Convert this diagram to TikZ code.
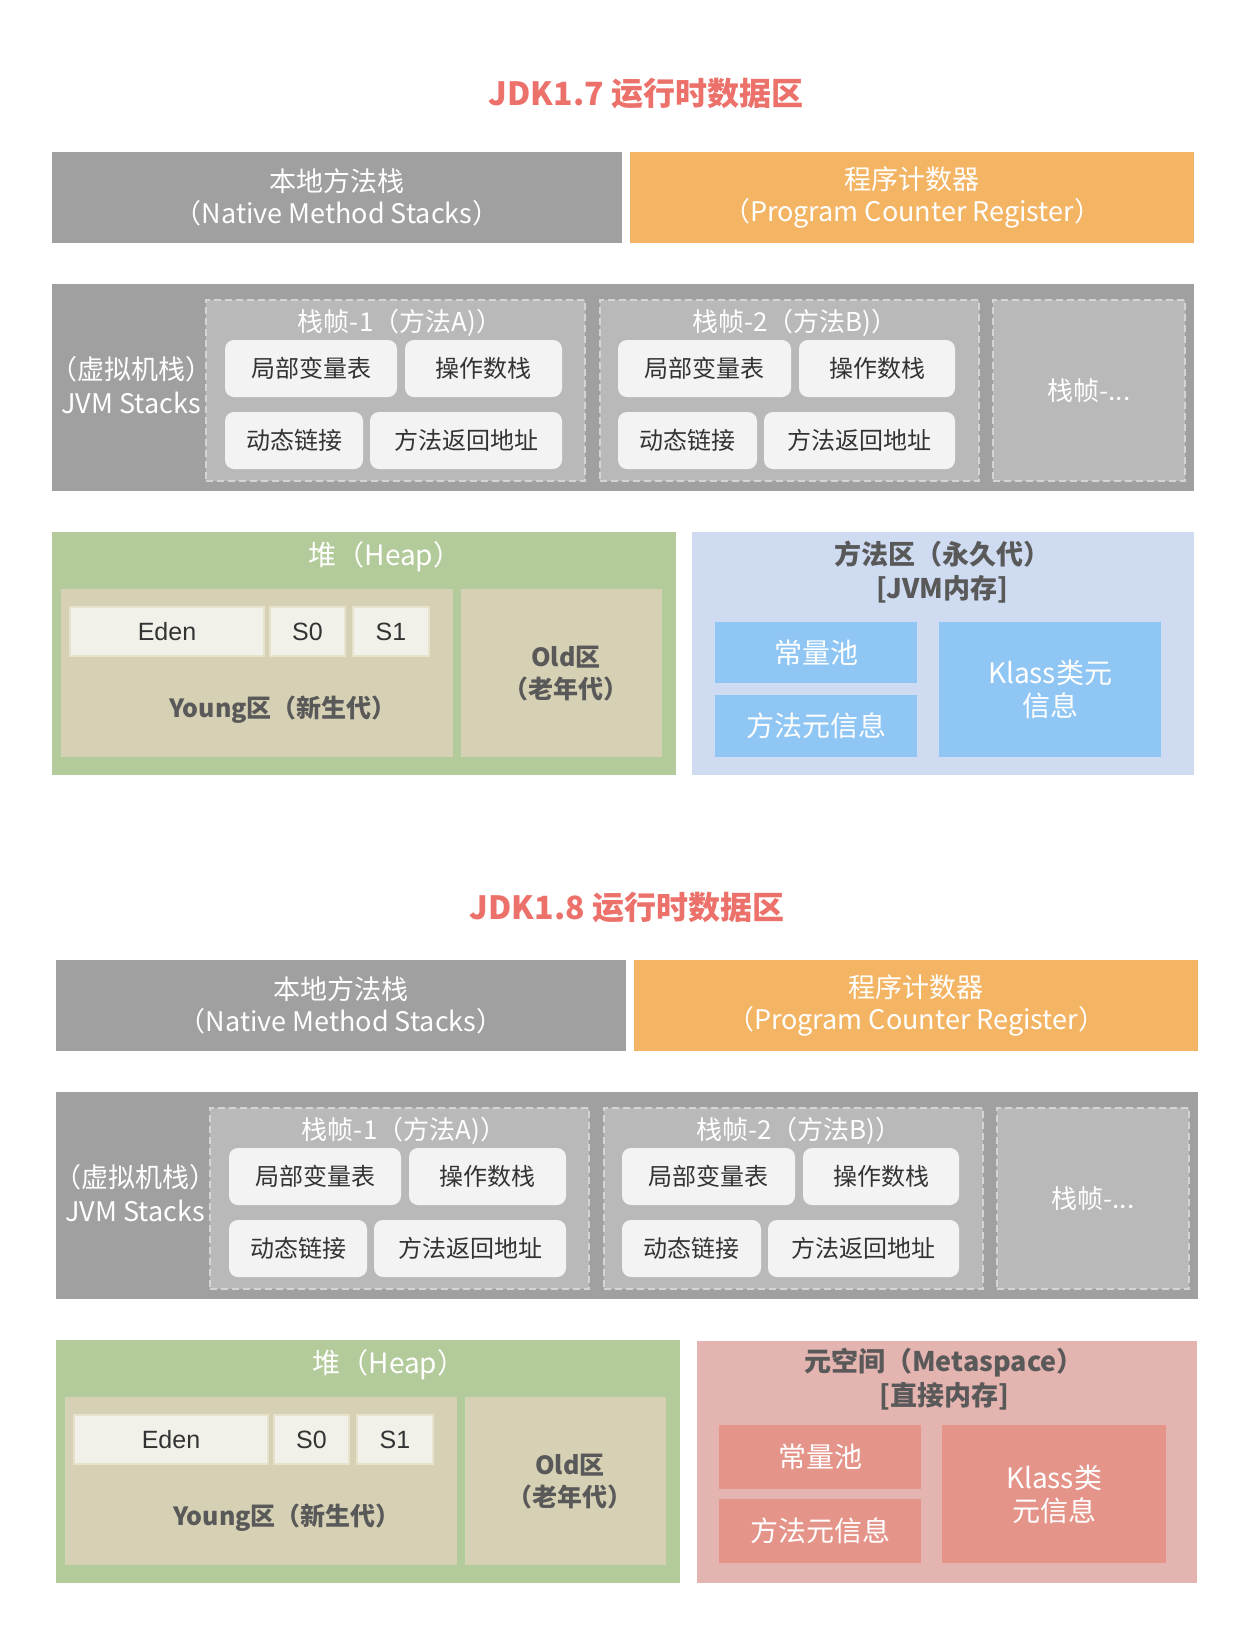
\documentclass[tikz,border=0pt]{standalone}
\usepackage{fontspec}
\setmainfont{Noto Sans CJK SC}
\newfontfamily\latinsans{Liberation Sans}
\definecolor{titlered}{HTML}{EC716B}
\definecolor{stackgray}{HTML}{A0A0A0}
\definecolor{framegray}{HTML}{B9B9B9}
\definecolor{framedash}{HTML}{D4D4D4}
\definecolor{cellwhite}{HTML}{F3F3F3}
\definecolor{pcorange}{HTML}{F3B564}
\definecolor{heapgreen}{HTML}{B3CA9A}
\definecolor{genbeige}{HTML}{D6D1B4}
\definecolor{spacecream}{HTML}{F1F0E9}
\definecolor{spaceedge}{HTML}{E6E2CC}
\definecolor{permblue}{HTML}{CEDBF0}
\definecolor{cellblue}{HTML}{90C6F3}
\definecolor{metapink}{HTML}{E3B4B0}
\definecolor{cellpink}{HTML}{E5948A}
\definecolor{darktext}{HTML}{333333}
\definecolor{midtext}{HTML}{595959}
\newcommand\fs[2]{\fontsize{#1}{#2}\selectfont}
% \blk[style]{name}{x1}{y1}{x2}{y2}{text}: a box given by two corners (pixels)
\newcommand\blk[7][]{%
  \node[rectangle, inner sep=0pt, outer sep=0pt, align=center,
        minimum width={#5-#3}, minimum height={#6-#4}, #1]
        (#2) at ({(#3+#5)/2},{(#4+#6)/2}) {#7};}
% parts shared by both layouts: native stack, PC register, JVM stacks, heap
\newcommand\sharedpart[1]{%
  \blk[fill=stackgray, text=white, font=\fs{27}{32}]{#1native}{52}{152}{622}{243}{本地方法栈\\（Native Method Stacks）}
  \blk[fill=pcorange, text=white, font=\fs{27}{32}]{#1pc}{630}{152}{1194}{243}{程序计数器\\（Program Counter Register）}
  \blk[fill=stackgray]{#1jvm}{52}{284}{1194}{491}{}
  \node[text=white, font=\fs{27}{34}, align=center] (#1jvmlabel) at (131,385) {（虚拟机栈）\\JVM Stacks};
  \blk[frame]{#1frameA}{206}{300}{585}{481}{}
  \node[frametitle] (#1frameAtitle) at (400,323) {栈帧-1（方法A)）};
  \blk[cell]{#1lvA}{225}{340}{397}{397}{局部变量表}
  \blk[cell]{#1osA}{405}{340}{562}{397}{操作数栈}
  \blk[cell]{#1dlA}{225}{412}{363}{469}{动态链接}
  \blk[cell]{#1raA}{370}{412}{562}{469}{方法返回地址}
  \blk[frame]{#1frameB}{600}{300}{979}{481}{}
  \node[frametitle] (#1frameBtitle) at (795,323) {栈帧-2（方法B)）};
  \blk[cell]{#1lvB}{618}{340}{791}{397}{局部变量表}
  \blk[cell]{#1osB}{799}{340}{955}{397}{操作数栈}
  \blk[cell]{#1dlB}{618}{412}{757}{469}{动态链接}
  \blk[cell]{#1raB}{764}{412}{955}{469}{方法返回地址}
  \blk[frame, text=white, font=\fs{26}{30}]{#1frameC}{993}{300}{1185}{481}{栈帧-...}
  \blk[fill=heapgreen]{#1heap}{52}{532}{676}{775}{}
  \node[text=white, font=\fs{28}{32}] (#1heaptitle) at (385,557) {堆（Heap）};
  \blk[fill=genbeige]{#1young}{61}{589}{453}{757}{}
  \blk[space]{#1eden}{70}{607}{264}{656}{Eden}
  \blk[space]{#1szero}{270}{607}{345}{656}{S0}
  \blk[space]{#1sone}{353}{607}{429}{656}{S1}
  \node[gentext] (#1youngtext) at (283,710) {Young区（新生代）};
  \blk[fill=genbeige]{#1old}{461}{589}{662}{757}{}
  \node[gentext] (#1oldtext) at (566,674) {Old区\\（老年代）};
}
\begin{document}
\begin{tikzpicture}[x=1pt, y=-1pt,
  frame/.style={fill=framegray, draw=framedash, line width=2.5pt, dash pattern=on 7pt off 4pt},
  frametitle/.style={text=white, font=\fs{26}{30}, inner sep=0pt},
  cell/.style={fill=cellwhite, rounded corners=9pt, text=darktext, font=\fs{24}{30}},
  space/.style={fill=spacecream, draw=spaceedge, line width=2pt, text=darktext, font=\latinsans\fs{25}{30}},
  gentext/.style={text=midtext, font=\bfseries\fs{25}{32}, align=center, inner sep=0pt},
  areatitle/.style={text=midtext, font=\bfseries\fs{27}{34}, align=center, inner sep=0pt},
  sectiontitle/.style={text=titlered, font=\bfseries\fs{32}{38}, inner sep=0pt},
  bluecell/.style={fill=cellblue, text=white, font=\fs{28}{33}},
  pinkcell/.style={fill=cellpink, text=white, font=\fs{28}{33}}]
\useasboundingbox (0,0) rectangle (1246,1631);
\fill[white] (0,0) rectangle (1246,1631);

% ---------- JDK 1.7 ----------
\node[sectiontitle] (titleA) at (646,94) {JDK1.7 运行时数据区};
\sharedpart{a}
\blk[fill=permblue]{aperm}{692}{532}{1194}{775}{}
\node[areatitle] (apermtitle) at (942,572) {方法区（永久代）\\{}[JVM内存]};
\blk[bluecell]{apool}{715}{622}{917}{683}{常量池}
\blk[bluecell]{ameta}{715}{695}{917}{757}{方法元信息}
\blk[bluecell]{aklass}{939}{622}{1161}{757}{Klass类元\\信息}

% ---------- JDK 1.8 ----------
\node[sectiontitle] (titleB) at (627,908) {JDK1.8 运行时数据区};
\begin{scope}[shift={(4,808)}]
\sharedpart{b}
\end{scope}
\blk[fill=metapink]{bmeta}{697}{1341}{1197}{1583}{}
\node[areatitle] (bmetatitle) at (944,1379) {元空间（Metaspace）\\{}[直接内存]};
\blk[pinkcell]{bpool}{719}{1425}{921}{1489}{常量池}
\blk[pinkcell]{bmetainfo}{719}{1499}{921}{1563}{方法元信息}
\blk[pinkcell]{bklass}{942}{1425}{1166}{1563}{Klass类\\元信息}
\end{tikzpicture}
\end{document}
